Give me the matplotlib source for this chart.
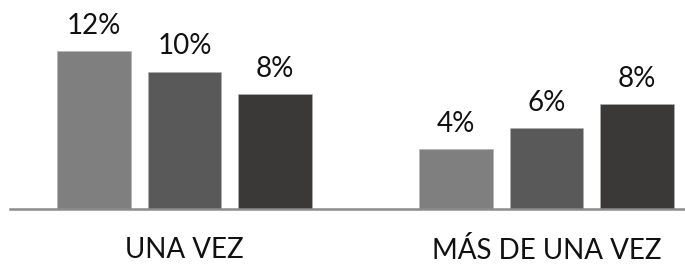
import numpy as np
import matplotlib.pyplot as plt

categorias = ["UNA VEZ", "MÁS DE UNA VEZ"]
serie_a = [11.6, 4.4]
serie_b = [10.1, 5.95]
serie_c = [8.45, 7.7]
etiquetas_a = ["12%", "4%"]
etiquetas_b = ["10%", "6%"]
etiquetas_c = ["8%", "8%"]

colores = ["#7f7f7f", "#595959", "#3b3937"]

plt.rcParams['font.family'] = ['Lato', 'DejaVu Sans']

fig = plt.figure(figsize=(6.85, 2.66), dpi=100)
ax = fig.add_axes([10/685, 57/266, 675/685, 209/266])

x = np.arange(len(categorias))
ancho = 0.204
paso = 0.25

series = [serie_a, serie_b, serie_c]
etiquetas = [etiquetas_a, etiquetas_b, etiquetas_c]
for i in range(3):
    barras = ax.bar(x + (i-1)*paso, series[i], width=ancho, color=colores[i],
                    edgecolor="#b0b0b0", linewidth=0.4, zorder=2)
    for b, lab in zip(barras, etiquetas[i]):
        ax.annotate(lab, (b.get_x() + b.get_width()/2, b.get_height()),
                    xytext=(0, 9), textcoords="offset points",
                    ha="center", va="bottom", fontsize=20, color="#111111")

ax.set_xlim(-174.5/362, 1 + 138.5/362)
ax.set_ylim(0, 209/13.6)

ax.set_xticks(x)
ax.set_xticklabels(categorias, fontsize=20, color="#111111")
ax.tick_params(axis="x", length=0, pad=20)
ax.set_yticks([])
for s in ["top", "right", "left"]:
    ax.spines[s].set_visible(False)
ax.spines["bottom"].set_color("#8c8c8c")
ax.spines["bottom"].set_linewidth(1.8)
ax.spines["bottom"].set_zorder(3)

fig.savefig("out.png", dpi=100)
